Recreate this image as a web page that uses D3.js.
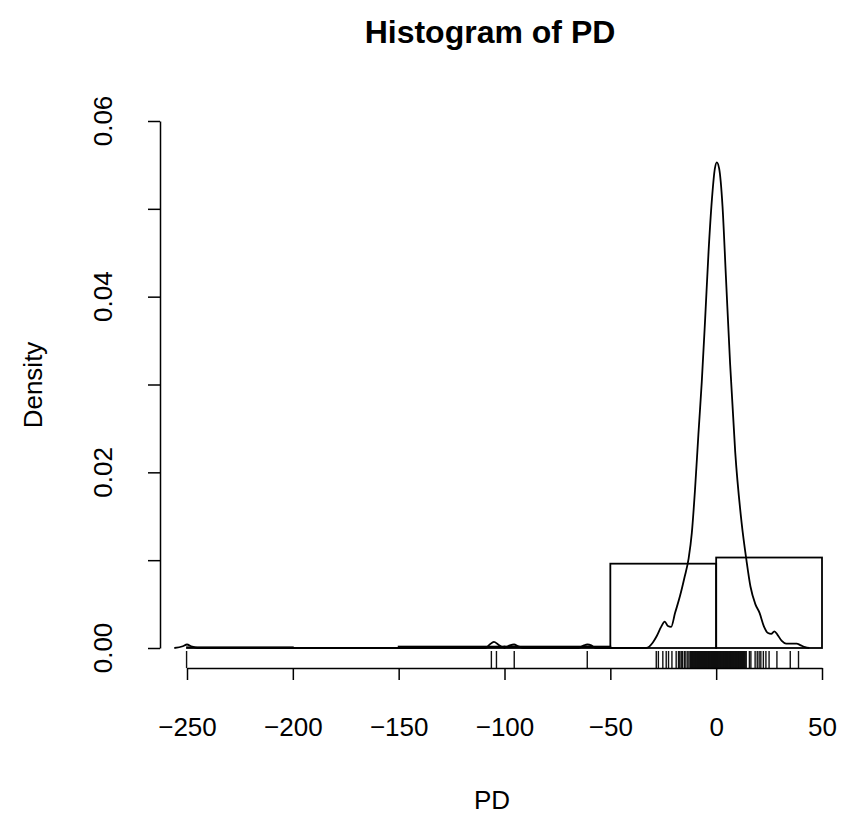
<!DOCTYPE html>
<html>
<head>
<meta charset="utf-8">
<script src="https://cdn.jsdelivr.net/npm/d3@7"></script>
<style>
  body { margin: 0; background: #fff; }
  text { font-family: "Liberation Sans", Arial, Helvetica, sans-serif; fill: #000; }
</style>
</head>
<body>
<div id="chart"></div>
<script>
(function() {
    'use strict';

    // histogram of PD (freq = FALSE)
    const breaks = [-250, -200, -150, -100, -50, 0, 50];
    const densities = [0.00008, 0, 0.00016, 0.00016, 0.0096, 0.0103];

    // kernel density curve
    const densityX = [-256, -252, -250, -248, -245, -109, -107, -105, -103, -101, -99.5, -97.5, -95.5, -93.5, -91,
        -65, -62.5, -60.8, -59, -57, -33, -30, -28, -26, -24.3, -22.8, -21.3, -19.4, -17, -15, -13, -11.5, -10,
        -8.4, -6.8, -5.2, -3.6, -2, -0.6, 0.3, 1.4, 3, 4.6, 6.6, 9, 12, 14.3, 16.2, 18.5, 20.5, 22.5, 24.5, 26,
        27.5, 29, 31, 33, 35.5, 38, 40, 42, 44];
    const densityY = [0, 0.0002, 0.0004, 0.0002, 0, 0, 0.0004, 0.0007, 0.0004, 0.0001, 0.0001, 0.0003, 0.0004, 0.0002, 0,
        0, 0.0003, 0.0004, 0.0003, 0, 0, 0.0006, 0.0014, 0.0024, 0.0030, 0.0025, 0.0024, 0.0040, 0.0060, 0.0080, 0.0102, 0.0131, 0.0180,
        0.0243, 0.0303, 0.0375, 0.0451, 0.0511, 0.0546, 0.0553, 0.0546, 0.0503, 0.0423, 0.0323, 0.0223, 0.0143, 0.0100, 0.0070, 0.0050, 0.0040, 0.0025, 0.0017, 0.0016,
        0.0019, 0.0015, 0.0008, 0.0005, 0.0005, 0.0005, 0.0003, 0.0001, 0];

    // rug (observed PD values)
    const rugOutliers = [-250.2, -106.2, -103.8, -95.4, -60.9];
    const rugTails = [-28.3, -27.3, -25.2, -23.6, -22.5, -20.9, -18.9, -17.8, -17.2, -16.5, -15.9, -15.0, -14.3, -13.4, -12.8,
        14.2, 15.7, 16.4, 18.4, 19.4, 20.3, 21.1, 22.3, 23.5, 25.0, 28.7, 35.0, 38.9];
    const rugCore = [-12.1, -11.9, -11.6, -11.45, -11.3, -11.05, -10.8, -10.6, -10.4, -10.15, -9.9, -9.7, -9.5, -9.35,
        -9.2, -8.95, -8.7, -8.5, -8.3, -8.05, -7.8, -7.6, -7.4, -7.25, -7.1, -6.85, -6.6, -6.4, -6.2, -6.0, -5.8,
        -5.55, -5.3, -5.1, -4.9, -4.75, -4.6, -4.35, -4.1, -3.9, -3.7, -3.5, -3.3, -3.1, -2.9, -2.65, -2.4, -2.25,
        -2.1, -1.85, -1.6, -1.4, -1.2, -1.0, -0.8, -0.55, -0.3, -0.1, 0.1, 0.3, 0.5, 0.7, 0.9, 1.1, 1.3, 1.55, 1.8,
        2.0, 2.2, 2.4, 2.6, 2.8, 3.0, 3.25, 3.5, 3.7, 3.9, 4.1, 4.3, 4.5, 4.7, 4.95, 5.2, 5.4, 5.6, 5.8, 6.0, 6.2,
        6.4, 6.65, 6.9, 7.1, 7.3, 7.5, 7.7, 7.9, 8.1, 8.35, 8.6, 8.8, 9.0, 9.2, 9.4, 9.6, 9.8, 10.05, 10.3, 10.5,
        10.7, 10.9, 11.1, 11.35, 11.6, 11.8, 12.0, 12.25, 12.5, 12.7, 12.9, 13.15, 13.4, 13.55, 13.7];

    const xTicks = [-250, -200, -150, -100, -50, 0, 50];
    const yTicks = [0, 0.01, 0.02, 0.03, 0.04, 0.05, 0.06];
    const yLabels = [0, 0.02, 0.04, 0.06];

    const width = 844;
    const height = 824;

    const svg = d3.select("#chart")
        .append("svg")
        .attr("width", width)
        .attr("height", height);

    svg.append("rect").attr("width", width).attr("height", height).attr("fill", "#fff");

    // SCALES
    const x = d3.scaleLinear().domain([-250, 50]).range([187, 822]);
    const y = d3.scaleLinear().domain([0, 0.06]).range([648, 121]);
    const axisY = 668;   // bottom edge of plot region
    const axisX = 160;   // left edge of plot region

    // BARS
    const bins = densities.map((d, i) => ({ x0: breaks[i], x1: breaks[i + 1], d: d }));
    svg.append("g")
        .selectAll("rect")
        .data(bins)
        .join("rect")
        .attr("x", d => x(d.x0))
        .attr("y", d => y(d.d))
        .attr("width", d => x(d.x1) - x(d.x0))
        .attr("height", d => y(0) - y(d.d))
        .attr("fill", "none")
        .attr("stroke", "#000")
        .attr("stroke-width", 1.8);

    // DENSITY LINE
    const pts = densityX.map((v, i) => [v, densityY[i]]);
    svg.append("path")
        .datum(pts)
        .attr("d", d3.line().x(d => x(d[0])).y(d => y(d[1])).curve(d3.curveMonotoneX))
        .attr("fill", "none")
        .attr("stroke", "#000")
        .attr("stroke-width", 1.8);

    // RUG
    const rugValues = rugOutliers.concat(rugTails, rugCore);
    svg.append("g")
        .selectAll("line")
        .data(rugValues)
        .join("line")
        .attr("x1", d => x(d)).attr("x2", d => x(d))
        .attr("y1", axisY).attr("y2", axisY - 17)
        .attr("stroke", "#111")
        .attr("stroke-width", 1.4);

    // X AXIS
    const gx = svg.append("g")
        .attr("transform", `translate(0, ${axisY})`)
        .call(d3.axisBottom(x).tickValues(xTicks).tickSize(12).tickSizeOuter(0).tickPadding(38));
    gx.select(".domain").attr("stroke-width", 1.5);
    gx.selectAll(".tick line").attr("stroke-width", 1.5);
    gx.selectAll("text").attr("font-size", 26).attr("font-family", null).attr("fill", "#000");

    // Y AXIS
    const gy = svg.append("g")
        .attr("transform", `translate(${axisX}, 0)`)
        .call(d3.axisLeft(y).tickValues(yTicks).tickSize(12).tickSizeOuter(0).tickFormat(""));
    gy.select(".domain").attr("stroke-width", 1.5);
    gy.selectAll(".tick line").attr("stroke-width", 1.5);

    svg.append("g")
        .selectAll("text")
        .data(yLabels)
        .join("text")
        .attr("transform", d => `translate(103, ${y(d)}) rotate(-90)`)
        .attr("text-anchor", "middle")
        .attr("dy", "0.35em")
        .attr("font-size", 26)
        .text(d => d3.format(".2f")(d));

    // TITLES
    svg.append("text")
        .attr("x", 490).attr("y", 43)
        .attr("text-anchor", "middle")
        .attr("font-size", 32)
        .attr("font-weight", "bold")
        .text("Histogram of PD");

    svg.append("text")
        .attr("x", 492).attr("y", 809)
        .attr("text-anchor", "middle")
        .attr("font-size", 26)
        .text("PD");

    svg.append("text")
        .attr("transform", "translate(33, 385) rotate(-90)")
        .attr("text-anchor", "middle")
        .attr("dy", "0.35em")
        .attr("font-size", 26)
        .text("Density");
})();
</script>
</body>
</html>
